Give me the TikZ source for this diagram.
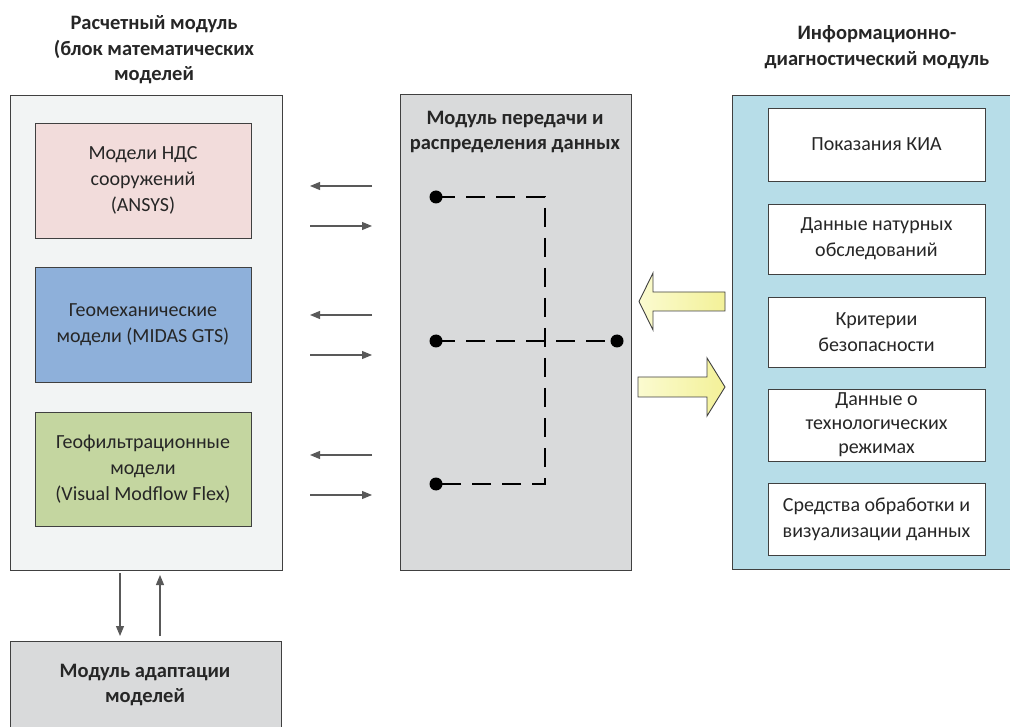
\documentclass[tikz,border=0pt]{standalone}
\usepackage{fontspec}
\setmainfont{Carlito}
\usetikzlibrary{arrows.meta}
\definecolor{bordc}{HTML}{404040}
\definecolor{outerc}{HTML}{F2F4F4}
\definecolor{pinkc}{HTML}{F2DCDB}
\definecolor{bluec}{HTML}{8EB0DA}
\definecolor{greenc}{HTML}{C4D6A0}
\definecolor{grayc}{HTML}{D9DADB}
\definecolor{cyanc}{HTML}{B7DDE8}
\definecolor{arrc}{HTML}{595959}
\definecolor{txtc}{HTML}{262626}
\definecolor{yelA}{HTML}{FBFBD0}
\definecolor{yelB}{HTML}{F3F198}
\begin{document}
\begin{tikzpicture}[x=1pt,y=-1pt,
  box/.style={draw=bordc,line width=0.9pt,inner sep=0pt},
  lbl/.style={align=center,text=txtc,font=\fontsize{20}{26}\selectfont},
  ttl/.style={align=center,text=txtc,font=\fontsize{20.5}{25.5}\selectfont\bfseries},
  thin arr/.style={draw=arrc,line width=1.1pt,-{Triangle[length=10pt,width=8pt]}},
  dot/.style={circle,fill=black,inner sep=0pt,minimum size=13pt},
  dashline/.style={line width=2.6pt,dash pattern=on 19pt off 11pt,black},
  blockarr/.style={draw=bordc,line width=0.9pt,left color=yelA,right color=yelB}]
\useasboundingbox (0,0) rectangle (1010,727);
\clip (0,0) rectangle (1010,727);
% titles
\node[ttl] (t1) at (154,50) {Расчетный модуль\\(блок математических\\моделей};
\node[ttl] (t2) at (877,47) {Информационно-\\диагностический модуль};
% left module
\draw[box,fill=outerc] (10,95) rectangle (282,570);
\node[box,fill=pinkc,minimum width=216pt,minimum height=115pt,lbl] (m1) at (143,180.5) {Модели НДС\\сооружений\\(ANSYS)};
\node[box,fill=bluec,minimum width=216pt,minimum height=115pt,lbl] (m2) at (143,325) {Геомеханические\\модели (MIDAS GTS)};
\node[box,fill=greenc,minimum width=216pt,minimum height=114pt,lbl] (m3) at (143,469) {Геофильтрационные\\модели\\(Visual Modflow Flex)};
% middle module
\draw[box,fill=grayc] (400,94) rectangle (631,570);
\node[ttl] (t3) at (515,132) {Модуль передачи и\\распределения данных};
% right module
\draw[box,fill=cyanc] (732,95) rectangle (1015,569);
\node[box,fill=white,minimum width=217pt,minimum height=73pt,lbl] (r1) at (876.5,144.5) {Показания КИА};
\node[box,fill=white,minimum width=217pt,minimum height=70pt,lbl] (r2) at (876.5,239) {Данные натурных\\обследований};
\node[box,fill=white,minimum width=217pt,minimum height=70pt,lbl] (r3) at (876.5,332) {Критерии\\безопасности};
\node[box,fill=white,minimum width=217pt,minimum height=72pt,lbl,font=\fontsize{20}{24}\selectfont] (r4) at (876.5,425) {Данные о\\технологических\\режимах};
\node[box,fill=white,minimum width=217pt,minimum height=72pt,lbl] (r5) at (876.5,519) {Средства обработки и\\визуализации данных};
% bottom module
\draw[box,fill=grayc] (10,641) rectangle (281,740);
\node[ttl] (t4) at (145,685) {Модуль адаптации\\моделей};
% small arrows
\coordinate (aR1) at (372,186); \coordinate (aL1) at (310,186);
\coordinate (bL1) at (310,226); \coordinate (bR1) at (372,226);
\coordinate (aR2) at (372,315); \coordinate (aL2) at (310,315);
\coordinate (bL2) at (310,355); \coordinate (bR2) at (372,355);
\coordinate (aR3) at (372,455); \coordinate (aL3) at (310,455);
\coordinate (bL3) at (310,495); \coordinate (bR3) at (372,495);
\draw[thin arr] (aR1) -- (aL1);
\draw[thin arr] (bL1) -- (bR1);
\draw[thin arr] (aR2) -- (aL2);
\draw[thin arr] (bL2) -- (bR2);
\draw[thin arr] (aR3) -- (aL3);
\draw[thin arr] (bL3) -- (bR3);
\coordinate (v1a) at (120,573); \coordinate (v1b) at (120,636);
\coordinate (v2a) at (160,636); \coordinate (v2b) at (160,575);
\draw[thin arr] (v1a) -- (v1b);
\draw[thin arr] (v2a) -- (v2b);
% dashed distribution
\node[dot] (d1) at (436,197) {};
\node[dot] (d2) at (436,341) {};
\node[dot] (d3) at (436,484) {};
\node[dot] (d4) at (617,341) {};
\coordinate (c1) at (545,197);
\coordinate (c3) at (545,484);
\draw[dashline] (d1.center) -- (c1) -- (c3) -- (d3.center);
\draw[dashline] (d2.center) -- (d4.center);
% block arrows
\draw[blockarr] (725,292) -- (653,292) -- (653,273) -- (639,301.5) -- (653,330) -- (653,311) -- (725,311) -- cycle;
\draw[blockarr] (638,377) -- (707,377) -- (707,358) -- (725,387) -- (707,416) -- (707,397) -- (638,397) -- cycle;
\end{tikzpicture}
\end{document}
